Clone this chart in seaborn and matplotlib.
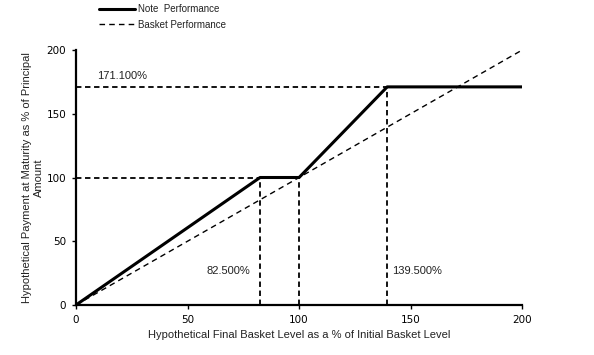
import numpy as np
import pandas as pd
import matplotlib
matplotlib.use("Agg")
import matplotlib.pyplot as plt
import seaborn as sns

# payoff data
note_x = [0, 82.5, 100, 139.5, 200]
note_y = [0, 100, 100, 171.1, 171.1]
basket_x = [0, 200]
basket_y = [0, 200]

cap_level = 171.1
buffer_level = 82.5
cap_x = 139.5
ticks = [0, 50, 100, 150, 200]

note_df = pd.DataFrame({'x': note_x, 'y': note_y})
basket_df = pd.DataFrame({'x': basket_x, 'y': basket_y})

sns.set_style('white')
plt.rcParams['font.family'] = ['Liberation Sans', 'DejaVu Sans']

fig = plt.figure(figsize=(5.94, 3.55), dpi=100)
ax = fig.add_axes([0.128, 0.141, 0.751, 0.718])

sns.lineplot(data=note_df, x='x', y='y', ax=ax, color='black', linewidth=2.2,
             label='Note  Performance', sort=False)
sns.lineplot(data=basket_df, x='x', y='y', ax=ax, color='black', linewidth=1.0,
             linestyle=(0, (4, 3)), label='Basket Performance')

# guide lines
dash = dict(color='black', linewidth=1.3, linestyle=(0, (3, 2)))
ax.plot([0, buffer_level], [100, 100], **dash)
ax.plot([buffer_level, buffer_level], [0, 100], **dash)
ax.plot([100, 100], [0, 100], **dash)
ax.plot([0, cap_x], [cap_level, cap_level], **dash)
ax.plot([cap_x, cap_x], [0, cap_level], **dash)

txt = '#222222'
ax.text(9.5, 180, '171.100%', fontsize=8, va='center', ha='left', color=txt)
ax.text(58.7, 26.7, '82.500%', fontsize=8, va='center', ha='left', color=txt)
ax.text(141.7, 26.7, '139.500%', fontsize=8, va='center', ha='left', color=txt)

ax.set_xlim(0, 200)
ax.set_ylim(0, 200)
ax.set_xticks(ticks)
ax.set_yticks(ticks)
ax.tick_params(axis='both', direction='out', length=3, width=1, labelsize=7.5,
               bottom=True, left=True, colors='black', pad=4)
for lbl in ax.get_xticklabels() + ax.get_yticklabels():
    lbl.set_family('DejaVu Sans')
for s in ['top', 'right']:
    ax.spines[s].set_visible(False)
for s in ['left', 'bottom']:
    ax.spines[s].set_color('black')
    ax.spines[s].set_linewidth(1.6)

ax.set_xlabel('Hypothetical Final Basket Level as a % of Initial Basket Level',
              fontsize=8, color=txt)
ax.set_ylabel('Hypothetical Payment at Maturity as % of Principal\nAmount',
              fontsize=8, color=txt, labelpad=2)

leg = ax.legend(loc='upper left', bbox_to_anchor=(0.152, 1.012), bbox_transform=fig.transFigure,
                frameon=False, fontsize=7, handlelength=3.7, handletextpad=0.3,
                labelspacing=0.55)
for t in leg.get_texts():
    t.set_color(txt)

plt.savefig('out.png', dpi=100)
